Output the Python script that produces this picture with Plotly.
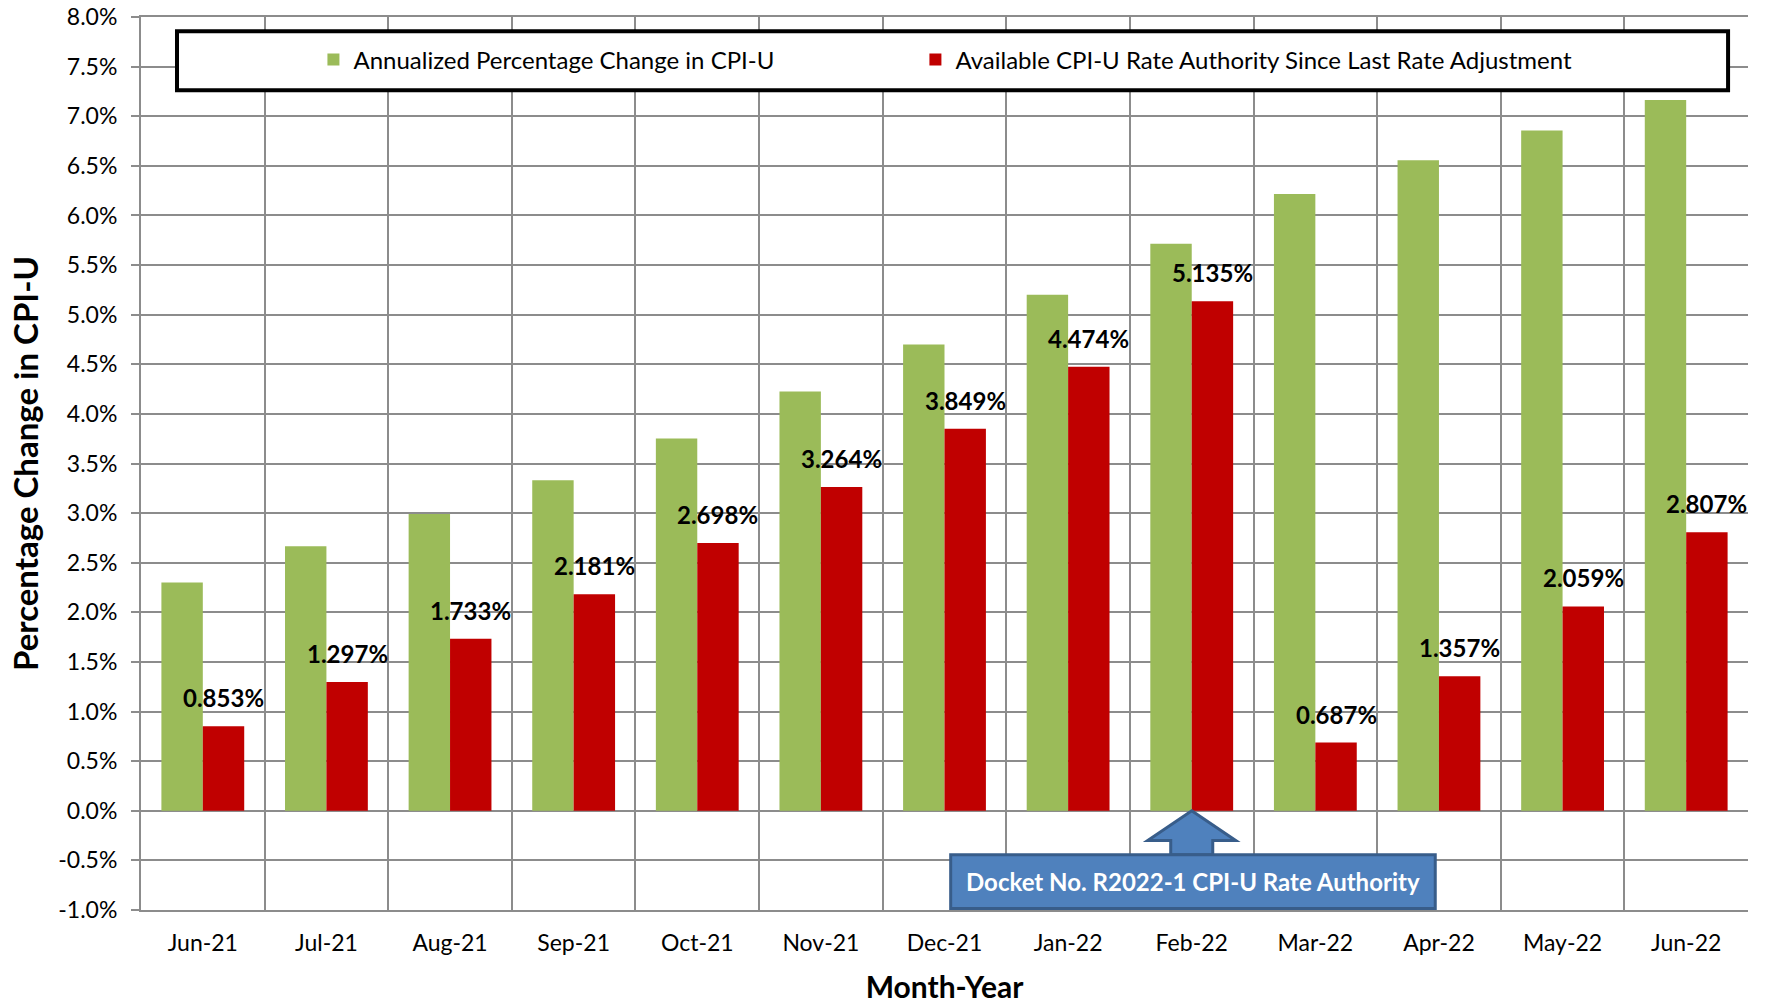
import plotly.graph_objects as go

months = ["Jun-21", "Jul-21", "Aug-21", "Sep-21", "Oct-21", "Nov-21", "Dec-21",
          "Jan-22", "Feb-22", "Mar-22", "Apr-22", "May-22", "Jun-22"]
annualized_cpi = [2.30, 2.665, 2.99, 3.332, 3.752, 4.225, 4.70, 5.20, 5.715, 6.215, 6.557, 6.856, 7.164]
available_authority = [0.853, 1.297, 1.733, 2.181, 2.698, 3.264, 3.849, 4.474, 5.135, 0.687, 1.357, 2.059, 2.807]
y_ticks = [-1.0, -0.5, 0.0, 0.5, 1.0, 1.5, 2.0, 2.5, 3.0, 3.5, 4.0, 4.5, 5.0, 5.5, 6.0, 6.5, 7.0, 7.5, 8.0]

FONT = "Lato"
GREEN = "#9BBB59"
RED = "#C00000"
GRID = "#8C8C8C"

x_idx = list(range(len(months)))
bargap = 0.33
bar_w = (1 - bargap) / 2

fig = go.Figure()
fig.add_trace(go.Bar(x=x_idx, y=annualized_cpi, name="Annualized Percentage Change in CPI-U",
                     marker=dict(color=GREEN, line=dict(width=0)), legend="legend",
                     showlegend=True))
fig.add_trace(go.Bar(x=x_idx, y=available_authority,
                     name="Available CPI-U Rate Authority Since Last Rate Adjustment",
                     marker=dict(color=RED, line=dict(width=0)), legend="legend2",
                     showlegend=True))

# data labels above red bars
for i, v in zip(x_idx, available_authority):
    fig.add_annotation(x=i + bar_w / 2, y=v, text=f"{v:.3f}%", showarrow=False,
                       yanchor="bottom", xanchor="center", yshift=12,
                       font=dict(family=FONT, size=24, color="black", weight="bold"))

# legend frame
fig.add_shape(type="rect", xref="paper", yref="paper", x0=0.0224, x1=0.9876, y0=0.918, y1=0.984,
              line=dict(color="black", width=4), fillcolor="white", layer="above")

# block arrow + callout box for Feb-22
feb = months.index("Feb-22")
head_y, box_top, box_bot = -0.30, -0.443, -0.985
path = (f"M {feb},0 L {feb+0.356},{head_y} L {feb+0.17},{head_y} L {feb+0.17},{box_top} "
        f"L {feb-0.17},{box_top} L {feb-0.17},{head_y} L {feb-0.356},{head_y} Z")
fig.add_shape(type="path", path=path, xref="x", yref="y", fillcolor="#4F81BD",
              line=dict(color="#385D8A", width=3), layer="above")
fig.add_shape(type="rect", xref="x", yref="y", x0=6.05, x1=9.97, y0=box_bot, y1=box_top,
              fillcolor="#4F81BD", line=dict(color="#385D8A", width=3), layer="above")
fig.add_annotation(x=(6.05 + 9.97) / 2, y=(box_top + box_bot) / 2, xref="x", yref="y",
                   text="Docket No. R2022-1 CPI-U Rate Authority", showarrow=False,
                   font=dict(family=FONT, size=24, color="white", weight="bold"))

legend_common = dict(orientation="h", yanchor="middle", y=0.952, xanchor="left",
                     bgcolor="rgba(0,0,0,0)", borderwidth=0,
                     font=dict(family=FONT, size=24, color="black"))

fig.update_layout(
    width=1765, height=1004,
    margin=dict(l=141, r=17, t=17, b=94, autoexpand=False),
    paper_bgcolor="white", plot_bgcolor="white",
    showlegend=True,
    barmode="group", bargap=bargap, bargroupgap=0,
    font=dict(family=FONT, size=23, color="black"),
    legend=dict(x=0.1073, **legend_common),
    legend2=dict(x=0.4819, **legend_common),
    xaxis=dict(range=[-0.5, 12.5], tickvals=x_idx, ticktext=months, showgrid=False,
               zeroline=False, showline=True, mirror=True, linecolor=GRID, linewidth=2,
               ticks="", ticklabelstandoff=11, automargin=False,
               minor=dict(tickvals=[i - 0.5 for i in range(len(months) + 1)], showgrid=True,
                          gridcolor=GRID, gridwidth=2, ticks=""),
               title=dict(text="Month-Year", font=dict(family=FONT, size=30, weight="bold"),
                          standoff=23),
               tickfont=dict(family=FONT, size=23)),
    yaxis=dict(range=[-1.0, 8.0], tickvals=y_ticks, ticktext=[f"{t:.1f}%" for t in y_ticks],
               showgrid=True, gridcolor=GRID, gridwidth=2, zeroline=False,
               showline=True, linecolor=GRID, linewidth=2, automargin=False,
               ticks="outside", ticklen=8, tickcolor=GRID, tickwidth=2, ticklabelstandoff=9,
               ticklabeloverflow="allow",
               title=dict(text="Percentage Change in CPI-U",
                          font=dict(family=FONT, size=33, weight="bold"), standoff=10),
               tickfont=dict(family=FONT, size=23)),
)

fig.write_html("out.html", config={"displayModeBar": False},
               post_script="document.body.style.margin='0';")
